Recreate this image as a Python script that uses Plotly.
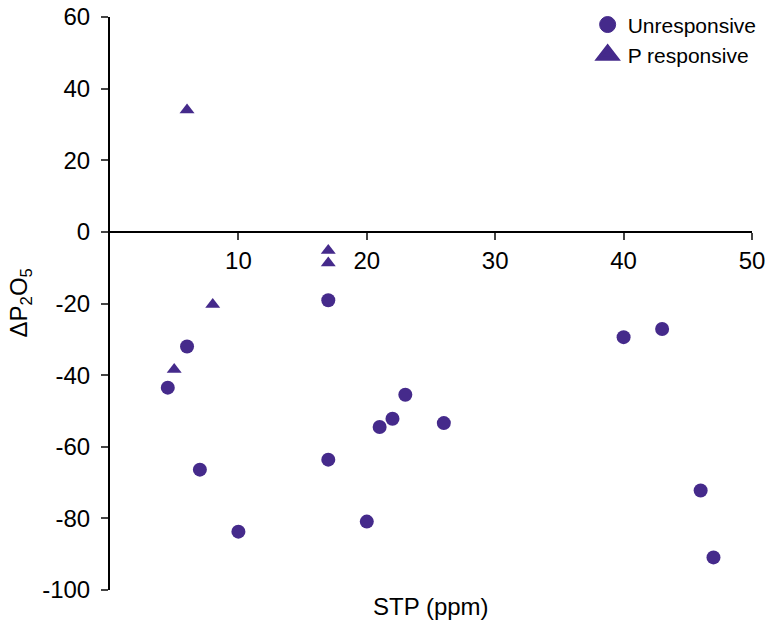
import plotly.graph_objects as go

# Data
unresp_x = [4.5, 6, 7, 10, 17, 17, 20, 21, 22, 23, 26, 40, 43, 46, 47]
unresp_y = [-43.5, -32, -66.4, -83.7, -19.1, -63.6, -80.9, -54.5, -52.2, -45.5, -53.4, -29.4, -27.1, -72.2, -90.9]
resp_x = [6, 8, 5, 17, 17]
resp_y = [34, -20.3, -38.4, -5.2, -8.7]

x_ticks = [10, 20, 30, 40, 50]
x_ticklabels = ["10", "20", "30", "40", "50"]
y_ticks = [-100, -80, -60, -40, -20, 0, 20, 40, 60]
y_ticklabels = ["-100", "-80", "-60", "-40", "-20", "0", "20", "40", "60"]

color = "#452a8b"
font_family = "Liberation Sans, Arial, sans-serif"

W, H = 765, 626
ML, MR, MT, MB = 110, 13, 17, 36
plot_w = W - ML - MR
plot_h = H - MT - MB

fig = go.Figure()
fig.add_trace(go.Scatter(
    x=unresp_x, y=unresp_y, mode="markers", name="Unresponsive",
    marker=dict(symbol="circle", size=14, color=color), showlegend=False,
))
fig.add_trace(go.Scatter(
    x=resp_x, y=resp_y, mode="markers", name="P responsive",
    marker=dict(symbol="triangle-up", size=13, color=color), showlegend=False,
))
# legend entries (larger symbols as in the reference legend)
fig.add_trace(go.Scatter(
    x=[None], y=[None], mode="markers", name="Unresponsive",
    marker=dict(symbol="circle", size=16, color=color, line=dict(width=1, color=color)),
))
fig.add_trace(go.Scatter(
    x=[None], y=[None], mode="markers", name="P responsive",
    marker=dict(symbol="triangle-up", size=16, color=color, line=dict(width=4, color=color)),
))

fig.update_layout(
    width=W, height=H, autosize=False,
    margin=dict(l=ML, r=MR, t=MT, b=MB, autoexpand=False),
    paper_bgcolor="white", plot_bgcolor="white",
    font=dict(family=font_family, size=24, color="black"),
    showlegend=True,
    legend=dict(
        x=1.015, y=1.022, xanchor="right", yanchor="top",
        font=dict(size=21), bgcolor="rgba(0,0,0,0)",
        itemsizing="trace", tracegroupgap=0,
    ),
    xaxis=dict(
        range=[0, 50], tickvals=x_ticks, ticktext=x_ticklabels,
        ticks="outside", ticklen=7, tickwidth=2,
        showline=True, linewidth=2, linecolor="black",
        showgrid=False, zeroline=False, anchor="free", position=0.625,
        tickfont=dict(size=24), automargin=False, ticklabeloverflow="allow",
    ),
    yaxis=dict(
        range=[-100, 60], tickvals=y_ticks, ticktext=y_ticklabels,
        ticks="outside", ticklen=7, tickwidth=2,
        showline=True, linewidth=2, linecolor="black",
        showgrid=False, zeroline=False, ticklabelstandoff=6,
        tickfont=dict(size=24), automargin=False, ticklabeloverflow="allow",
    ),
    annotations=[
        dict(text="STP (ppm)", xref="paper", yref="paper",
             x=0.5, y=-(606 - (H - MB)) / plot_h, xanchor="center", yanchor="middle",
             showarrow=False, font=dict(size=24)),
        dict(text="ΔP<sub>2</sub>O<sub>5</sub>", xref="paper", yref="paper",
             x=-(ML - 20) / plot_w, y=0.5, xanchor="center", yanchor="middle",
             textangle=-90, showarrow=False, font=dict(size=24)),
    ],
)

post = (
    "document.documentElement.style.margin='0';"
    "document.documentElement.style.padding='0';"
    "document.documentElement.style.overflow='hidden';"
    "document.body.style.margin='0';"
    "document.body.style.padding='0';"
    "document.body.style.overflow='hidden';"
    "var gd=document.getElementById('{plot_id}');"
    "gd.style.position='fixed';gd.style.left='0px';gd.style.top='0px';"
    "gd.style.width='765px';gd.style.height='626px';"
)

fig.write_html("out.html", config={"responsive": False, "displayModeBar": False}, post_script=post)
